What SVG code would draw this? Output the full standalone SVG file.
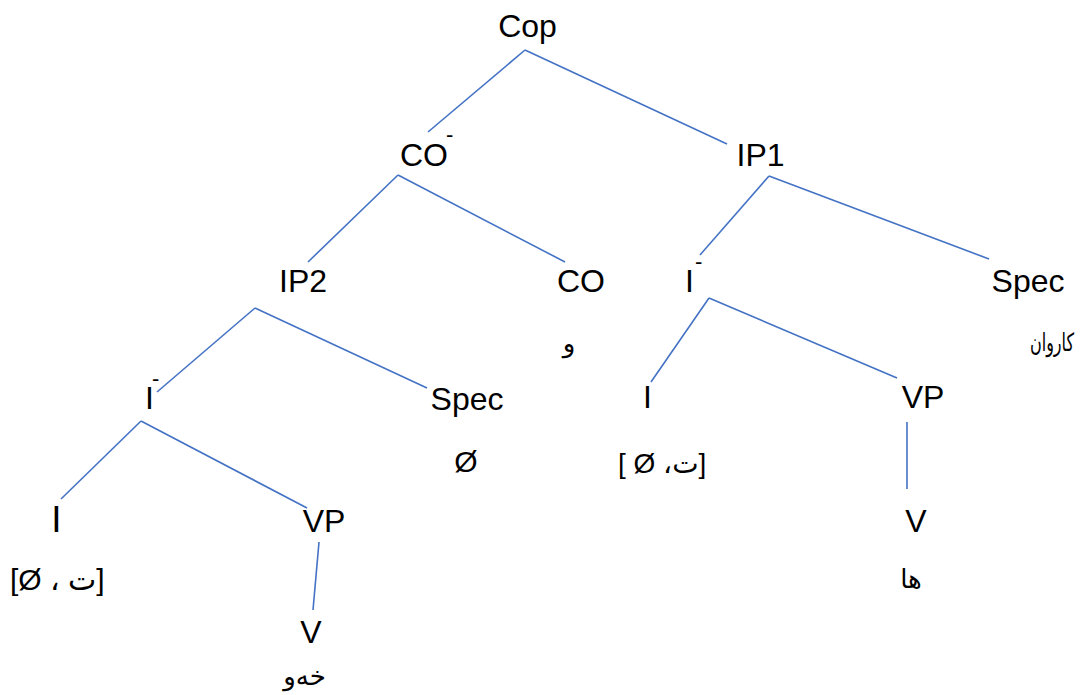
<svg xmlns="http://www.w3.org/2000/svg" width="1082" height="695" viewBox="0 0 1082 695">
<style>
.t{font-family:"Liberation Sans","DejaVu Sans",sans-serif;font-size:32px;fill:#000;text-anchor:middle}
.s{text-anchor:start}
.bar{font-family:"Liberation Sans",sans-serif;font-size:22px;fill:#000}
.ar{font-family:"DejaVu Sans","Liberation Sans",sans-serif;font-size:26px;fill:#000;text-anchor:middle}
.br{font-family:"Liberation Sans","DejaVu Sans",sans-serif;font-size:30px;fill:#000;unicode-bidi:bidi-override;direction:ltr}
.e{stroke:#4472C4;stroke-width:1.6;fill:none}
</style>
<rect width="1082" height="695" fill="#fff"/>
<g id="connectors">
<line class="e" x1="525" y1="50" x2="428" y2="132"/>
<line class="e" x1="525" y1="50" x2="727" y2="144"/>
<line class="e" x1="398" y1="175" x2="308" y2="262"/>
<line class="e" x1="398" y1="175" x2="565" y2="262"/>
<line class="e" x1="769" y1="176" x2="700" y2="255"/>
<line class="e" x1="769" y1="176" x2="989" y2="259"/>
<line class="e" x1="255" y1="308" x2="157" y2="392"/>
<line class="e" x1="255" y1="308" x2="427" y2="388"/>
<line class="e" x1="709" y1="298" x2="651" y2="382"/>
<line class="e" x1="709" y1="298" x2="897" y2="378"/>
<line class="e" x1="141" y1="421" x2="61" y2="499"/>
<line class="e" x1="141" y1="421" x2="307" y2="508"/>
<line class="e" x1="907" y1="422" x2="907" y2="489"/>
<line class="e" x1="319" y1="542" x2="313" y2="610"/>
</g>
<g id="cop"><text class="t" x="527.5" y="37">Cop</text></g>
<g id="cobar"><text class="t s" x="400" y="166">CO</text><text class="bar" x="446" y="142">-</text></g>
<g id="ip1"><text class="t" x="760.5" y="166">IP1</text></g>
<g id="ip2"><text class="t" x="303" y="292">IP2</text></g>
<g id="co"><text class="t" x="581" y="292">CO</text><text class="ar" x="569" y="352">و</text></g>
<g id="ibar1"><text class="t" x="689.5" y="292">I</text><text class="bar" x="695" y="269">-</text></g>
<g id="spec1"><text class="t" x="1028" y="292">Spec</text><g transform="translate(1052,351) scale(0.64,1)"><text class="ar" x="0" y="0" style="font-size:25px">کاروان</text></g></g>
<g id="ibar2"><text class="t" x="149.5" y="409">I</text><text class="bar" x="152" y="386">-</text></g>
<g id="spec2"><text class="t" x="467" y="410">Spec</text><text class="t" x="466" y="472" style="font-size:30px">Ø</text></g>
<g id="i1"><text class="t" x="647.5" y="408">I</text><text class="br" x="618" y="473" style="font-size:28px">[ Ø ،ت]</text></g>
<g id="vp1"><text class="t" x="923" y="408">VP</text></g>
<g id="v1"><text class="t" x="916" y="532">V</text><text class="ar" x="911" y="588">ها</text></g>
<g id="i2"><text class="t" x="56.5" y="532" style="font-size:37px">I</text><text class="br" x="10" y="590">[Ø  ،  ت]</text></g>
<g id="vp2"><text class="t" x="324" y="532">VP</text></g>
<g id="v2"><text class="t" x="311" y="643">V</text><text class="ar" x="304.5" y="685">خەو</text></g>
</svg>
